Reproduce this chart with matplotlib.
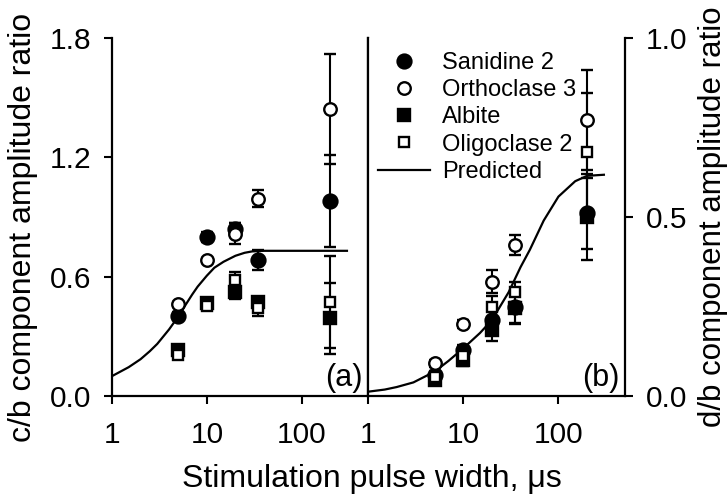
import matplotlib
matplotlib.use("Agg")
import matplotlib.pyplot as plt
from matplotlib.lines import Line2D
from matplotlib.ticker import FixedLocator, NullLocator, FormatStrFormatter

plt.rcParams['font.family'] = ['Liberation Sans', 'DejaVu Sans']

# pulse widths (us)
pulse = [5, 10, 20, 35, 200]

# c/b amplitude ratios
san_cb = [0.40, 0.80, 0.84, 0.683, 0.98]
san_cb_err = [0.02, 0.025, 0.03, 0.05, 0.23]
ort_cb = [0.462, 0.683, 0.817, 0.993, 1.441]
ort_cb_err = [0.01, 0.01, 0.054, 0.045, 0.277]
alb_cb = [0.23, 0.47, 0.524, 0.474, 0.39]
alb_cb_err = [0.02, 0.02, 0.037, 0.025, 0.178]
oli_cb = [0.205, 0.452, 0.583, 0.44, 0.472]
oli_cb_err = [0.015, 0.02, 0.04, 0.04, 0.232]

# d/b amplitude ratios
san_db = [0.06, 0.128, 0.212, 0.25, 0.51]
san_db_err = [0.01, 0.015, 0.03, 0.05, 0.10]
ort_db = [0.091, 0.201, 0.319, 0.422, 0.771]
ort_db_err = [0.01, 0.01, 0.032, 0.028, 0.14]
alb_db = [0.045, 0.10, 0.184, 0.245, 0.50]
alb_db_err = [0.01, 0.015, 0.03, 0.04, 0.12]
oli_db = [0.054, 0.112, 0.25, 0.291, 0.682]
oli_db_err = [0.01, 0.015, 0.03, 0.028, 0.164]

# predicted curves
pred_cb_x = [1, 1.5, 2, 2.5, 3, 4, 5, 6, 7, 8, 10, 12, 15, 20, 25, 30, 40, 300]
pred_cb_y = [0.10, 0.145, 0.185, 0.225, 0.262, 0.335, 0.40, 0.46, 0.51, 0.55,
             0.605, 0.645, 0.675, 0.705, 0.72, 0.727, 0.73, 0.73]
pred_db_x = [1, 1.5, 2, 3, 5, 7, 10, 15, 20, 30, 40, 50, 70, 100, 150, 200, 300]
pred_db_y = [0.012, 0.018, 0.025, 0.038, 0.068, 0.098, 0.133, 0.176, 0.212, 0.29,
             0.36, 0.408, 0.49, 0.557, 0.60, 0.615, 0.618]

names = ['Sanidine 2', 'Orthoclase 3', 'Albite', 'Oligoclase 2']
styles = [dict(marker='o', mfc='black', ms=10),
          dict(marker='o', mfc='white', ms=9),
          dict(marker='s', mfc='black', ms=8),
          dict(marker='s', mfc='white', ms=7.5)]

fig = plt.figure(figsize=(7.27, 4.98), dpi=100)
W, H = 727, 498
ax1 = fig.add_axes([112 / W, 102 / H, 256 / W, 358 / H])
ax2 = fig.add_axes([368 / W, 102 / H, 257 / W, 358 / H])


def draw(ax, ys, errs, px, py):
    for y, e, st in zip(ys, errs, styles):
        ax.errorbar(pulse, y, yerr=e, ls='none', color='black', mec='black',
                    mew=1.7, elinewidth=1.5, capsize=4.5, capthick=1.5, **st)
    ax.plot(px, py, color='black', lw=1.6)
    ax.set_xscale('log')
    ax.set_xlim(1, 500)
    ax.xaxis.set_major_locator(FixedLocator([1, 10, 100]))
    ax.xaxis.set_minor_locator(NullLocator())
    ax.xaxis.set_major_formatter(FormatStrFormatter('%g'))
    ax.spines['top'].set_visible(False)
    for s in ['left', 'right', 'bottom']:
        ax.spines[s].set_linewidth(1.6)
    ax.tick_params(axis='x', direction='out', length=6, width=1.5, labelsize=21.5, pad=12)
    ax.tick_params(axis='y', direction='out', length=6, width=1.5, labelsize=21.5, pad=9)


draw(ax1, [san_cb, ort_cb, alb_cb, oli_cb],
     [san_cb_err, ort_cb_err, alb_cb_err, oli_cb_err], pred_cb_x, pred_cb_y)
draw(ax2, [san_db, ort_db, alb_db, oli_db],
     [san_db_err, ort_db_err, alb_db_err, oli_db_err], pred_db_x, pred_db_y)

ax1.set_ylim(0, 1.8)
ax1.set_yticks([0, 0.6, 1.2, 1.8])
ax1.yaxis.set_major_formatter(FormatStrFormatter('%.1f'))
ax1.set_ylabel('c/b component amplitude ratio', fontsize=23)
ax1.yaxis.set_label_coords(-0.289, 0.47)

ax2.set_ylim(0, 1.0)
ax2.set_yticks([0, 0.5, 1.0])
ax2.yaxis.set_major_formatter(FormatStrFormatter('%.1f'))
ax2.yaxis.tick_right()
ax2.yaxis.set_label_position('right')
ax2.set_ylabel('d/b component amplitude ratio', fontsize=22.5, rotation=90)
ax2.yaxis.set_label_coords(1.285, 0.5)

fig.text(372 / W, 1 - 487 / H, 'Stimulation pulse width, \u03bcs', fontsize=23,
         ha='center', va='baseline')
fig.text(363 / W, 1 - 386 / H, '(a)', fontsize=22, ha='right', va='baseline')
fig.text(620 / W, 1 - 386 / H, '(b)', fontsize=22, ha='right', va='baseline')

handles = [Line2D([], [], ls='none', color='black', mec='black', mew=1.7, **st)
           for st in styles]
handles.append(Line2D([], [], color='black', lw=1.6))
ax2.legend(handles, names + ['Predicted'], loc='upper left', frameon=False,
           bbox_to_anchor=(378 / W, 1 - 52 / H), bbox_transform=fig.transFigure,
           fontsize=17, borderpad=0, borderaxespad=0, handlelength=2.2,
           handletextpad=0.5, labelspacing=0.22)

fig.savefig('out.png', dpi=100)
